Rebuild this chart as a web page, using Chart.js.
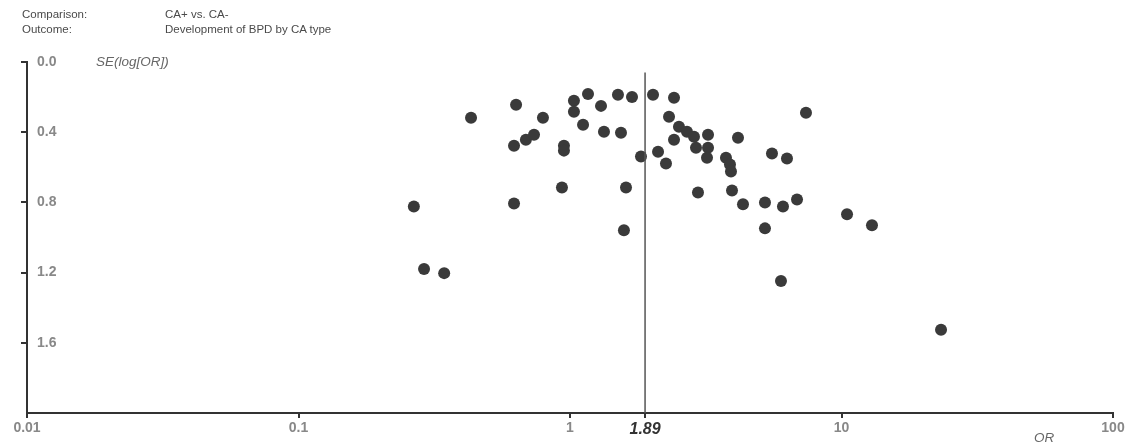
<!DOCTYPE html>
<html><head><meta charset="utf-8">
<script src="https://cdn.jsdelivr.net/npm/chart.js@4"></script>
<style>
html,body{margin:0;padding:0;background:#fff;}
#wrap{position:relative;width:1136px;height:443px;overflow:hidden;}
canvas{position:absolute;left:0;top:0;}
.t{position:absolute;font-family:"Liberation Sans",Arial,sans-serif;font-size:11.5px;color:#4a4a4a;white-space:nowrap;line-height:14px;}
.i{font-style:italic;font-size:13.5px;color:#666;}
</style></head><body>
<div id="wrap">
<canvas id="c" width="1136" height="443"></canvas>
<div class="t" style="left:22px;top:7px">Comparison:</div>
<div class="t" style="left:165px;top:7px">CA+ vs. CA-</div>
<div class="t" style="left:22px;top:22px">Outcome:</div>
<div class="t" style="left:165px;top:22px">Development of BPD by CA type</div>
<div class="t i" style="left:96px;top:55px">SE(log[OR])</div>
<div class="t i" style="left:1034px;top:431px">OR</div>
</div>
<script>
const orValues = [0.266,0.290,0.344,0.432,0.622,0.633,0.622,0.688,0.737,0.795,0.934,0.950,0.950,1.034,1.034,1.165,1.117,1.301,1.334,1.541,1.502,1.692,1.608,1.580,1.826,2.022,2.416,2.316,2.520,2.416,2.697,2.862,3.224,2.911,3.224,3.196,4.157,3.754,3.884,3.917,2.110,2.257,2.961,3.951,4.337,5.226,6.088,6.857,5.546,6.298,7.399,5.226,5.985,10.48,12.95,23.26];
const seValues = [0.823,1.180,1.203,0.318,0.806,0.244,0.477,0.443,0.414,0.318,0.715,0.477,0.505,0.221,0.284,0.182,0.357,0.250,0.397,0.403,0.187,0.199,0.715,0.959,0.539,0.187,0.204,0.312,0.369,0.443,0.397,0.426,0.414,0.488,0.488,0.545,0.431,0.545,0.584,0.624,0.511,0.579,0.743,0.732,0.811,0.800,0.823,0.783,0.522,0.550,0.289,0.948,1.248,0.868,0.930,1.526];
const pooledOR = 1.89;
const pooledLineSE = [0.06, 2.0];
const xTickValues = [0.01, 0.1, 1, 10, 100];
const yTickValues = [0.0, 0.4, 0.8, 1.2, 1.6];

const points = orValues.map((v, i) => ({x: v, y: seValues[i]}));
const pooledLine = pooledLineSE.map(s => ({x: pooledOR, y: s}));
const FAM = '"Liberation Sans", Arial, sans-serif';

new Chart(document.getElementById('c'), {
  type: 'scatter',
  data: {
    datasets: [
      {data: pooledLine, type: 'line', borderColor: '#555', borderWidth: 1.5, pointRadius: 0, showLine: true},
      {data: points, backgroundColor: '#3a3a3a', borderColor: '#3a3a3a', pointRadius: 6, pointHoverRadius: 6, borderWidth: 0}
    ]
  },
  options: {
    responsive: false, animation: false, devicePixelRatio: 1,
    layout: {padding: {left: 19, right: 23, top: 62, bottom: 0}},
    plugins: {legend: {display: false}, tooltip: {enabled: false}},
    scales: {
      x: {
        type: 'logarithmic', min: 0.01, max: 100,
        afterBuildTicks: s => { s.ticks = xTickValues.concat([pooledOR]).map(v => ({value: v})); },
        afterFit: s => { s.height = 30; },
        border: {color: '#333', width: 2},
        grid: {drawOnChartArea: false, tickLength: 5, color: '#333', lineWidth: 2},
        ticks: {
          autoSkip: false, maxRotation: 0, padding: 2,
          callback: v => String(v),
          color: c => c.tick && c.tick.value === pooledOR ? '#333' : '#888',
          font: c => c.tick && c.tick.value === pooledOR
            ? {family: FAM, size: 16, style: 'italic', weight: 'bold'}
            : {family: FAM, size: 14, weight: 'bold'}
        }
      },
      y: {
        type: 'linear', min: 0, max: 2, reverse: true,
        afterBuildTicks: s => { s.ticks = yTickValues.map(v => ({value: v})); },
        afterFit: s => { s.width = 8; },
        border: {color: '#333', width: 2},
        grid: {drawOnChartArea: false, tickLength: 6, color: '#333', lineWidth: 2},
        ticks: {
          mirror: true, padding: 10, color: '#888',
          callback: v => Number(v).toFixed(1),
          font: {family: FAM, size: 14, weight: 'bold'}
        }
      }
    }
  }
});
</script>
</body></html>
